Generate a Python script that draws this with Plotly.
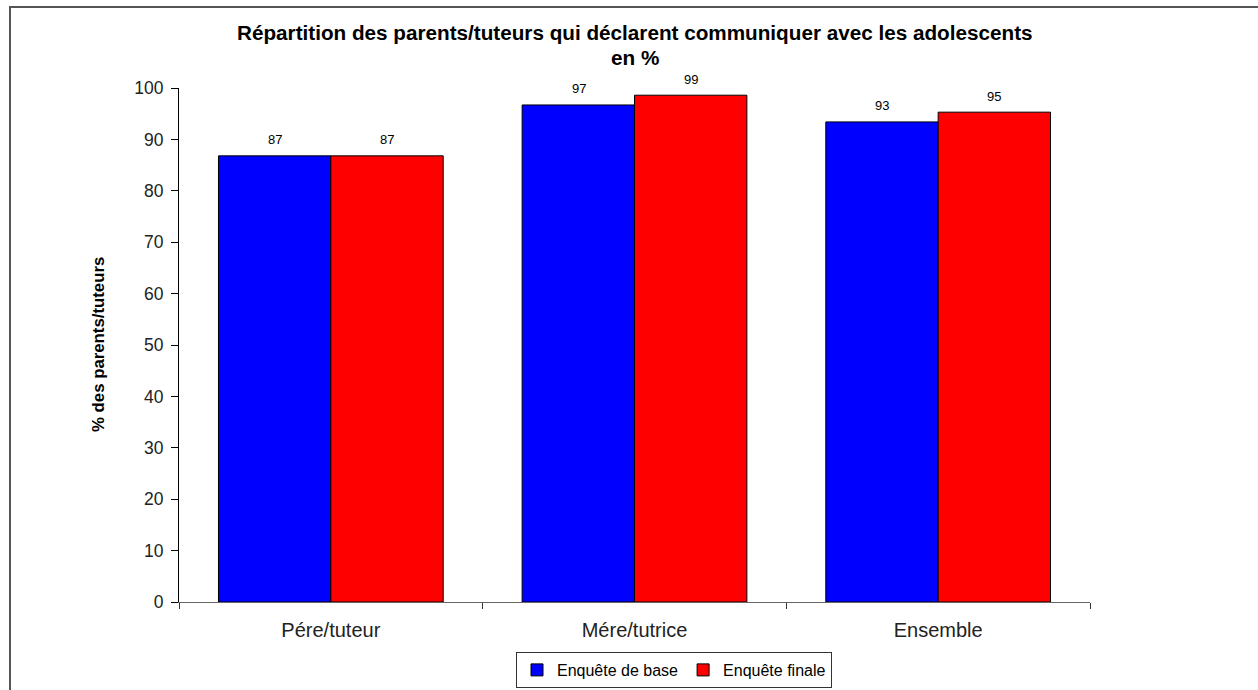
import plotly.graph_objects as go

categories = ["Pére/tuteur", "Mére/tutrice", "Ensemble"]
base_values = [86.8, 96.7, 93.4]
final_values = [86.8, 98.6, 95.3]
series_names = ["Enquête de base", "Enquête finale"]
y_ticks = list(range(0, 101, 10))

FONT = "Liberation Sans, Arial, sans-serif"
L, R, T, B = 179, 168, 88, 88
W, H = 1258, 690
pw = W - L - R
ph = H - T - B

fig = go.Figure()
fig.add_trace(go.Bar(x=categories, y=base_values, name=series_names[0],
                     marker=dict(color="#0000FF", line=dict(color="#000000", width=1))))
fig.add_trace(go.Bar(x=categories, y=final_values, name=series_names[1],
                     marker=dict(color="#FF0000", line=dict(color="#000000", width=1))))

annotations = []
for i, c in enumerate(categories):
    for vals, shift in ((base_values, -56), (final_values, 56)):
        annotations.append(dict(x=c, y=vals[i], xref="x", yref="y", text=f"{vals[i]:.0f}",
                                showarrow=False, xshift=shift, yshift=16, yanchor="middle",
                                font=dict(family=FONT, size=13, color="#000000")))

annotations.append(dict(x=0.5, y=(H - 33 - B) / ph, xref="paper", yref="paper",
                        text="<b>Répartition des parents/tuteurs qui déclarent communiquer avec les adolescents</b>",
                        showarrow=False, yanchor="middle", font=dict(family=FONT, size=20.7, color="#000000")))
annotations.append(dict(x=0.5, y=(H - 57 - B) / ph, xref="paper", yref="paper",
                        text="<b>en %</b>", showarrow=False, yanchor="middle",
                        font=dict(family=FONT, size=20.7, color="#000000")))
annotations.append(dict(x=(98 - L) / pw, y=(H - 345 - B) / ph, xref="paper", yref="paper",
                        text="<b>% des parents/tuteurs</b>", showarrow=False, textangle=-90,
                        xanchor="center", yanchor="middle",
                        font=dict(family=FONT, size=16.8, color="#000000")))

fig.update_layout(
    width=W, height=H,
    margin=dict(l=L, r=R, t=T, b=B, pad=0, autoexpand=False),
    paper_bgcolor="white", plot_bgcolor="white",
    barmode="group", bargap=0.26, bargroupgap=0,
    font=dict(family=FONT, size=14, color="#000000"),
    showlegend=True,
    legend=dict(orientation="h", x=(516 - L) / pw, xanchor="left",
                y=(H - 652 - B) / ph, yanchor="top",
                bordercolor="#333333", borderwidth=1, bgcolor="white",
                font=dict(family=FONT, size=16, color="#000000"),
                itemwidth=30, tracegroupgap=0),
    annotations=annotations,
    shapes=[dict(type="rect", xref="paper", yref="paper",
                 x0=(10 - L) / pw, x1=(W + 5 - L) / pw,
                 y0=-(B + 5) / ph, y1=(H - 7 - B) / ph,
                 line=dict(color="#555555", width=2), fillcolor="rgba(0,0,0,0)", layer="below")],
    xaxis=dict(showline=True, linecolor="#666666", linewidth=1, showgrid=False,
               ticks="outside", tickson="boundaries", ticklen=6, tickcolor="#333333",
               ticklabelstandoff=10,
               tickfont=dict(family=FONT, size=20, color="#222222"), zeroline=False),
    yaxis=dict(range=[0, 100], tickvals=y_ticks, showline=True, linecolor="#000000", linewidth=1,
               showgrid=False, zeroline=False, ticks="outside", ticklen=7, tickcolor="#000000",
               ticklabelstandoff=4,
               tickfont=dict(family=FONT, size=17.5, color="#222222")),
)

fig.write_html("out.html", config={"displayModeBar": False},
               post_script="document.body.style.margin='0';")
